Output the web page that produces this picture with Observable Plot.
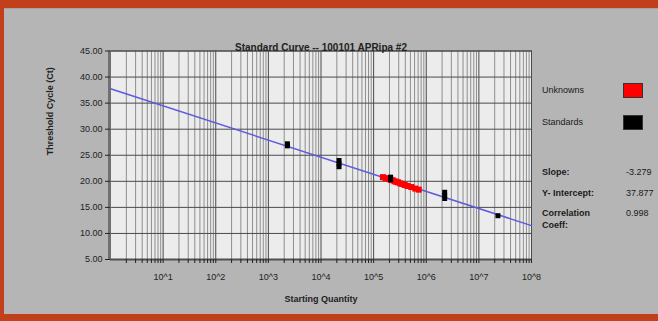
<!DOCTYPE html>
<html>
<head>
<meta charset="utf-8">
<script src="https://cdn.jsdelivr.net/npm/d3@7"></script>
<script src="https://cdn.jsdelivr.net/npm/@observablehq/plot@0.6"></script>
<style>
  html, body { margin: 0; padding: 0; background: #c1401b; }
  #wrap { position: relative; width: 658px; height: 321px; overflow: hidden; background: #c1401b; font-family: "Liberation Sans", Arial, sans-serif; }
  #panel { position: absolute; left: 4px; top: 8px; width: 654px; height: 306px; background: #b5b5b5; border-top: 1px solid #a4a4a4; box-sizing: border-box; }
  #chart { position: absolute; left: 4px; top: 8px; }
  .t { position: absolute; white-space: nowrap; font-size: 9px; line-height: 10px; color: #1a1a1a; }
  .b { font-weight: bold; }
  .sw { position: absolute; width: 20px; height: 15px; box-sizing: border-box; border: 1px solid #333; }
</style>
</head>
<body>
<div id="wrap">
  <div id="panel"></div>
  <div id="chart"></div>
</div>
<script>
// ---- data ----
const titleText = "Standard Curve -- 100101 APRipa #2";
const yLabel = "Threshold Cycle (Ct)";
const xLabel = "Starting Quantity";
const yTicks = [5, 10, 15, 20, 25, 30, 35, 40, 45];
const decades = [1e1, 1e2, 1e3, 1e4, 1e5, 1e6, 1e7, 1e8];
const xTickLabels = ["10^1", "10^2", "10^3", "10^4", "10^5", "10^6", "10^7", "10^8"];

const standardsQty = [2300, 2300, 22000, 22000, 22000, 210000, 210000, 2240000, 2240000, 2240000, 23000000];
const standardsCt  = [27.2, 26.8, 24.0, 23.4, 22.8, 20.8, 20.3, 17.9, 17.3, 16.7, 13.4];

const unknownsQty = [150000, 170000, 190000, 210000, 230000, 250000, 270000, 290000, 320000, 350000, 390000, 440000, 520000, 620000, 720000];
const unknownsCt  = [20.8, 20.6, 20.5, 20.3, 20.2, 20.0, 19.9, 19.8, 19.6, 19.5, 19.3, 19.1, 18.9, 18.6, 18.4];

const regQty = [1, 1e8];
const regCt  = [37.75, 11.5];

const legendLabels = ["Unknowns", "Standards"];
const legendColors = ["#ff0000", "#000000"];
const statLabels = ["Slope:", "Y- Intercept:", "Correlation", "Coeff:"];
const statValues = ["-3.279", "37.877", "0.998", ""];

// ---- build ----
const standards = standardsQty.map((q, i) => ({q, ct: standardsCt[i]}));
const unknowns = unknownsQty.map((q, i) => ({q, ct: unknownsCt[i]}));
const reg = regQty.map((q, i) => ({q, ct: regCt[i]}));
const minorGrid = [];
for (let k = 0; k < 8; k++) for (let m = 2; m <= 9; m++) minorGrid.push(m * Math.pow(10, k));
const allTicks = minorGrid.concat(decades);

const chart = Plot.plot({
  width: 654,
  height: 306,
  marginLeft: 106,
  marginRight: 127,
  marginTop: 42.5,
  marginBottom: 55,
  style: {background: "transparent", fontFamily: "Liberation Sans, Arial, sans-serif", fontSize: "9px", color: "#222"},
  x: {type: "log", domain: [1, 1e8]},
  y: {domain: [5, 45]},
  marks: [
    Plot.frame({fill: "#ececec", stroke: null}),
    Plot.ruleX(minorGrid, {stroke: "#8e8e8e", strokeWidth: 1}),
    Plot.ruleX(decades, {stroke: "#4a4a4a", strokeWidth: 1}),
    Plot.ruleY(yTicks, {stroke: "#4a4a4a", strokeWidth: 1}),
    Plot.frame({stroke: "#4a4a4a"}),
    Plot.ruleX([1], {stroke: "#707070", strokeWidth: 3, dx: -1}),
    Plot.ruleY([5], {stroke: "#505050", strokeWidth: 2}),
    Plot.axisY({ticks: yTicks, tickFormat: d3.format(".2f"), tickSize: 5, tickPadding: 3, label: null, fontSize: 9}),
    Plot.axisX({ticks: allTicks, tickFormat: () => "", tickSize: 4, label: null}),
    Plot.axisX({ticks: decades, tickFormat: d => xTickLabels[Math.round(Math.log10(d)) - 1], tickSize: 0, tickPadding: 14, label: null, fontSize: 9}),
    Plot.text([yLabel], {frameAnchor: "left", rotate: -90, dx: -60, fontWeight: "bold", fontSize: 9}),
    Plot.text([xLabel], {frameAnchor: "bottom", dy: 42, fontWeight: "bold", fontSize: 9}),
    Plot.text([titleText], {frameAnchor: "top", dy: -7, fontWeight: "bold", fontSize: 10}),
    Plot.line(reg, {x: "q", y: "ct", stroke: "#5c5cdc", strokeWidth: 1.5}),
    Plot.dot(unknowns, {x: "q", y: "ct", symbol: "square", r: 3.4, fill: "#ff0000"}),
    Plot.dot(standards, {x: "q", y: "ct", symbol: "square", r: 2.8, fill: "#000000"})
  ]
});
document.getElementById("chart").appendChild(chart);

// legend and statistics block
const wrap = document.getElementById("wrap");
const legendY = [90, 122];
legendLabels.forEach((lab, i) => {
  const t = document.createElement("div");
  t.className = "t";
  t.textContent = lab;
  t.style.left = "542px";
  t.style.top = (legendY[i] - 5) + "px";
  wrap.appendChild(t);
  const s = document.createElement("div");
  s.className = "sw";
  s.style.left = "623px";
  s.style.top = (legendY[i] - 7) + "px";
  s.style.background = legendColors[i];
  wrap.appendChild(s);
});
const statY = [172, 193, 213, 225];
statLabels.forEach((lab, i) => {
  const t = document.createElement("div");
  t.className = "t b";
  t.textContent = lab;
  t.style.left = "542px";
  t.style.top = (statY[i] - 5) + "px";
  wrap.appendChild(t);
  if (statValues[i]) {
    const v = document.createElement("div");
    v.className = "t";
    v.textContent = statValues[i];
    v.style.left = "626px";
    v.style.top = (statY[i] - 5) + "px";
    wrap.appendChild(v);
  }
});
</script>
</body>
</html>
